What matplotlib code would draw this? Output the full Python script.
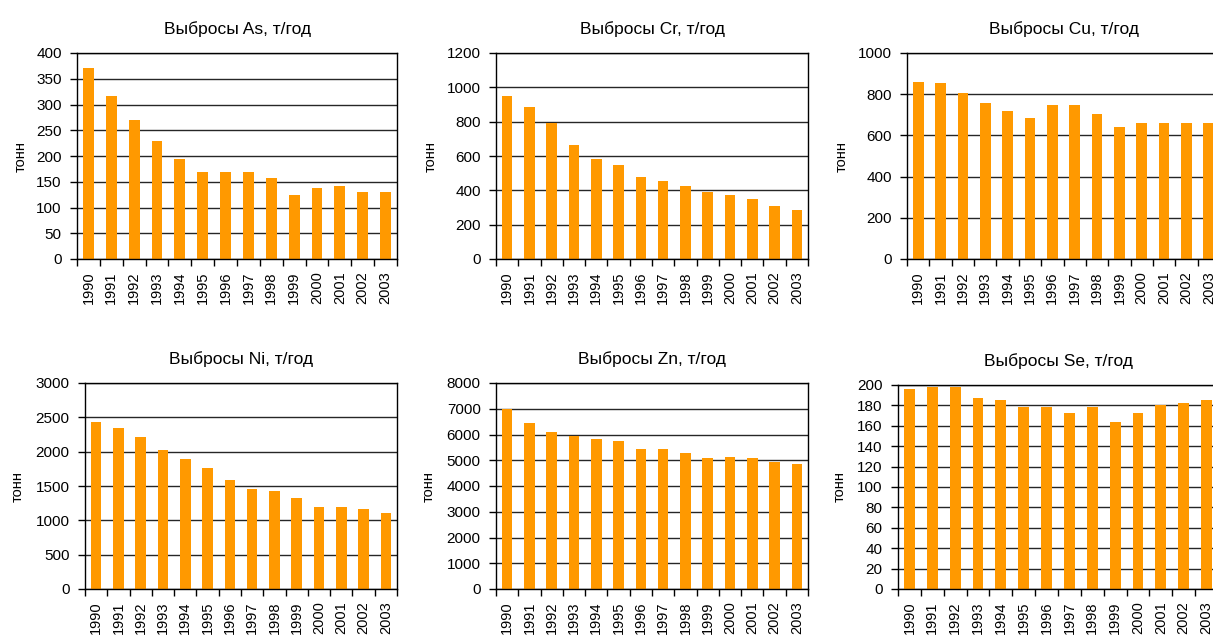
import matplotlib
matplotlib.use("Agg")
import matplotlib.pyplot as plt
import numpy as np

plt.rcParams['font.family'] = ['Liberation Sans', 'DejaVu Sans']

years = ['1990', '1991', '1992', '1993', '1994', '1995', '1996',
         '1997', '1998', '1999', '2000', '2001', '2002', '2003']

as_vals = [370, 317, 270, 229, 194, 168, 168, 168, 158, 124, 137, 141, 130, 130]
cr_vals = [948, 884, 791, 663, 582, 547, 478, 455, 426, 391, 373, 350, 309, 286]
cu_vals = [861, 852, 805, 755, 717, 683, 746, 746, 702, 639, 659, 659, 659, 659]
ni_vals = [2430, 2340, 2210, 2020, 1890, 1760, 1590, 1460, 1430, 1330, 1200, 1200, 1170, 1110]
zn_vals = [6980, 6430, 6080, 5930, 5810, 5730, 5420, 5420, 5300, 5070, 5110, 5070, 4950, 4870]
se_vals = [196, 198, 198, 187, 185, 178, 178, 173, 178, 164, 173, 180, 182, 185]

titles = ['Выбросы As, т/год', 'Выбросы Cr, т/год', 'Выбросы Cu, т/год',
          'Выбросы Ni, т/год', 'Выбросы Zn, т/год', 'Выбросы Se, т/год']
ylabel = 'тонн'

W, H = 1213, 637
fig = plt.figure(figsize=(W / 100, H / 100), dpi=100)

# panels: (left, top, right, bottom) in pixels, values, ymax, ystep, ylabel x centre
panels = [
    ((77, 53, 397, 259), as_vals, 400, 50, 21),
    ((496, 53, 808, 259), cr_vals, 1200, 200, 431),
    ((907, 53, 1220, 259), cu_vals, 1000, 200, 842),
    ((85, 383, 397, 589), ni_vals, 3000, 500, 18),
    ((496, 383, 808, 589), zn_vals, 8000, 1000, 429),
    ((898, 385, 1218, 589), se_vals, 200, 20, 840),
]

bar_color = '#FF9900'
x = np.arange(len(years))

for (box, vals, ymax, ystep, ylx), title in zip(panels, titles):
    l, t, r, b = box
    ax = fig.add_axes([l / W, 1 - b / H, (r - l) / W, (b - t) / H])
    ax.set_axisbelow(True)
    ax.bar(x, vals, width=0.48, color=bar_color, zorder=2)
    ax.set_xlim(-0.5, len(years) - 0.5)
    ax.set_ylim(0, ymax)
    ax.set_yticks(np.arange(0, ymax + ystep / 2, ystep))
    ax.yaxis.grid(True, color='#262626', linewidth=1.0)
    ax.set_xticks(x)
    ax.set_xticklabels(years, rotation=90, fontsize=10.5)
    ax.set_xticks(np.arange(-0.5, len(years), 1.0), minor=True)
    ax.tick_params(axis='x', which='major', length=0, pad=9)
    ax.tick_params(axis='x', which='minor', length=5, width=1, color='black', direction='out')
    ax.tick_params(axis='y', length=5, width=1, labelsize=11, direction='out', pad=6)
    for s in ax.spines.values():
        s.set_color('black')
        s.set_linewidth(1.0)
    ax.set_title(title, fontsize=12.5, pad=14)
    ax.set_ylabel(ylabel, fontsize=10.5, va='center')
    ax.yaxis.set_label_coords(ylx / W, 1 - ((t + b) / 2) / H, transform=fig.transFigure)

fig.savefig('out.png', dpi=100)
